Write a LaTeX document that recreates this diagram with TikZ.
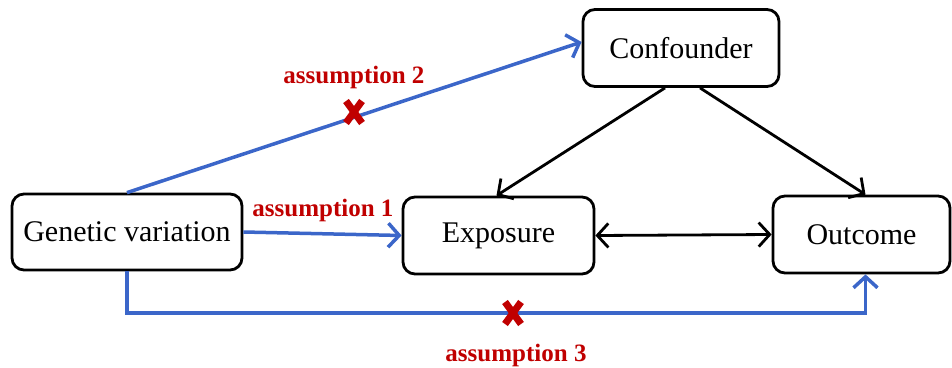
\documentclass[tikz,border=0pt]{standalone}
\usepackage{fontspec}
\setmainfont{Liberation Serif}
\usepackage{tikz}
\usetikzlibrary{arrows.meta}
\definecolor{linkblue}{RGB}{59,102,201}
\definecolor{darkred}{RGB}{192,0,0}
\tikzset{
  box/.style={draw,line width=2.8pt,rounded corners=12pt,inner sep=0pt,
    font=\fontsize{30}{34}\selectfont},
  link/.style={linkblue,line width=3.5pt,
    -{Straight Barb[length=11pt,width=24pt,line width=3.5pt]}},
  arr/.style={line width=2.8pt,-{Straight Barb[length=11pt,width=24pt]}},
  asm/.style={text=darkred,font=\fontsize{25}{28}\selectfont\bfseries},
  nomark/.style={darkred,line width=7pt}
}

\begin{document}
\begin{tikzpicture}[x=1pt,y=-1pt]
  \useasboundingbox (0,0) rectangle (952,367);
  \node[box,minimum width=230pt,minimum height=76pt] (gv) at (127,232) {Genetic variation};
  \node[box,minimum width=191pt,minimum height=77pt] (ex) at (498.5,235.5) {Exposure};
  \node[box,minimum width=177pt,minimum height=77pt] (out) at (861.5,234.5) {Outcome};
  \node[box,minimum width=196pt,minimum height=77pt] (conf) at (681,48) {Confounder};
  \coordinate (bend) at (127,313);
  \coordinate (x2) at (354,112);
  \coordinate (x3) at (513,313);
  \draw[link] (gv.north) -- ([yshift=6pt]conf.west);
  \draw[link] (gv.east) -- (ex.west);
  \draw[link] (gv.south) -- (bend) -| ([xshift=4pt]out.south);
  \draw[arr] ([xshift=-16pt]conf.south) -- ([xshift=-2pt]ex.north);
  \draw[arr] ([xshift=19pt]conf.south) -- ([xshift=4pt]out.north);
  \draw[line width=2.8pt,{Straight Barb[length=11pt,width=24pt]}-{Straight Barb[length=11pt,width=24pt]}] (ex.east) -- (out.west);
  \node[asm] (a1) at (323,210) {assumption 1};
  \node[asm] (a2) at (354,77) {assumption 2};
  \node[asm] (a3) at (516,355) {assumption 3};
  \draw[nomark] ([shift={(-8,-11)}]x2) -- ([shift={(8,11)}]x2);
  \draw[nomark] ([shift={(-8,11)}]x2) -- ([shift={(8,-11)}]x2);
  \draw[nomark] ([shift={(-8,-11)}]x3) -- ([shift={(8,11)}]x3);
  \draw[nomark] ([shift={(-8,11)}]x3) -- ([shift={(8,-11)}]x3);
\end{tikzpicture}
\end{document}
